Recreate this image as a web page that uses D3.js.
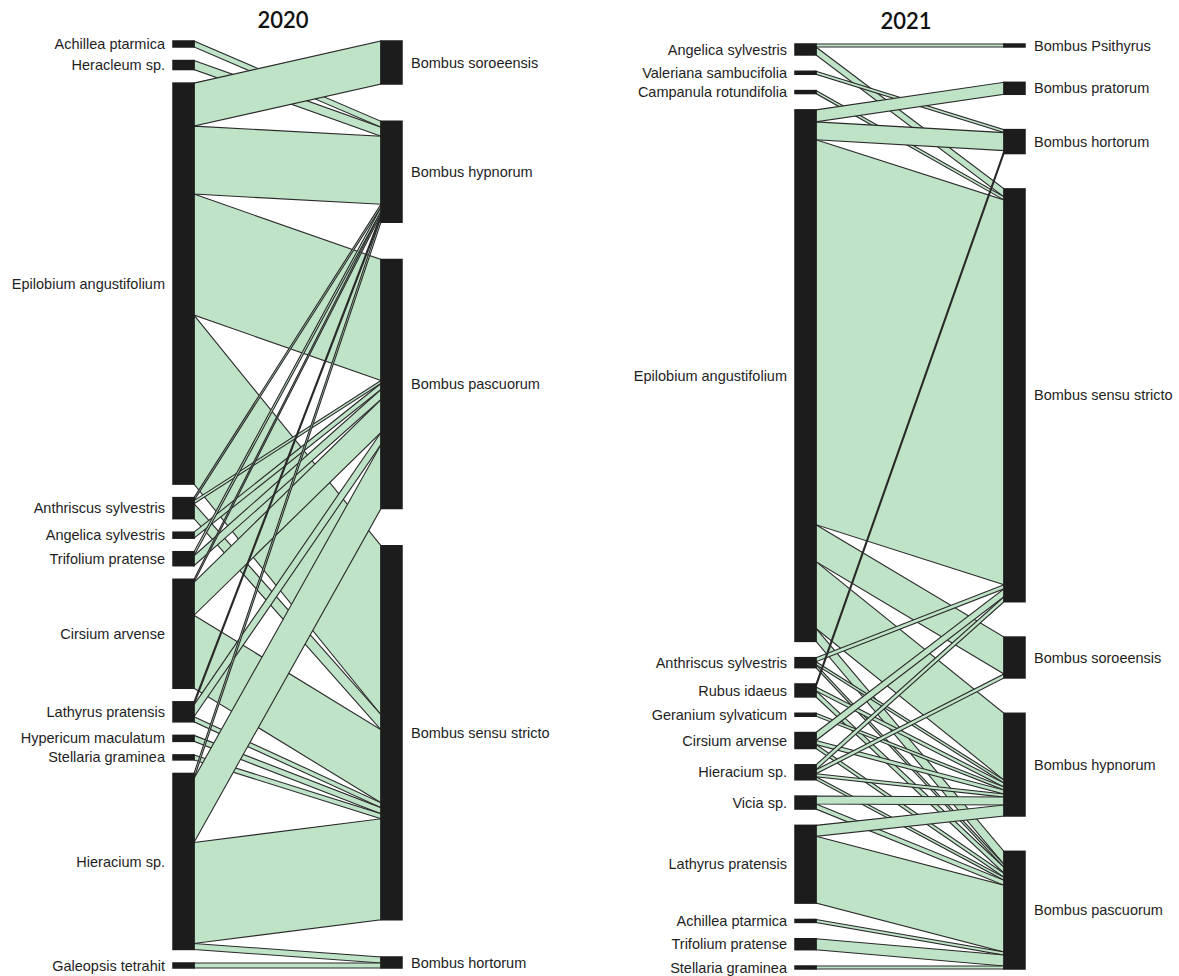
<!DOCTYPE html>
<html>
<head>
<meta charset="utf-8">
<script src="https://cdn.jsdelivr.net/npm/d3@7"></script>
<style>
  html, body { margin: 0; padding: 0; background: #ffffff; }
  svg { display: block; }
</style>
</head>
<body>
<svg id="chart" width="1179" height="976"></svg>
<script>
// ---- 2020: plants (lower level) and bumblebee groups (upper level) ----
const plants2020 = [
  "Achillea ptarmica", "Heracleum sp.", "Epilobium angustifolium",
  "Anthriscus sylvestris", "Angelica sylvestris", "Trifolium pratense",
  "Cirsium arvense", "Lathyrus pratensis", "Hypericum maculatum",
  "Stellaria graminea", "Hieracium sp.", "Galeopsis tetrahit"
];
const bees2020 = [
  "Bombus soroeensis", "Bombus hypnorum", "Bombus pascuorum",
  "Bombus sensu stricto", "Bombus hortorum"
];
// rows = plants2020, columns = bees2020
const visits2020 = [
  [0,   6,   0,   0, 0],
  [0,   9,   0,   0, 0],
  [43, 68, 121, 169, 0],
  [0,   3,   3,  15, 0],
  [0,   0,   6,   0, 0],
  [0,   4,  10,   0, 0],
  [0,   3,  33,  73, 0],
  [0,   3,  12,   5, 0],
  [0,   0,   0,   6, 0],
  [0,   0,   0,   5, 0],
  [0,   5,  64, 101, 6],
  [0,   0,   0,   0, 5]
];

// ---- 2021 ----
const plants2021 = [
  "Angelica sylvestris", "Valeriana sambucifolia", "Campanula rotundifolia",
  "Epilobium angustifolium", "Anthriscus sylvestris", "Rubus idaeus",
  "Geranium sylvaticum", "Cirsium arvense", "Hieracium sp.", "Vicia sp.",
  "Lathyrus pratensis", "Achillea ptarmica", "Trifolium pratense",
  "Stellaria graminea"
];
const bees2021 = [
  "Bombus Psithyrus", "Bombus pratorum", "Bombus hortorum",
  "Bombus sensu stricto", "Bombus soroeensis", "Bombus hypnorum",
  "Bombus pascuorum"
];
// rows = plants2021, columns = bees2021
const visits2021 = [
  [3,  0,  0,   8,  0,  0,  0],
  [0,  0,  3,   0,  0,  0,  0],
  [0,  0,  0,   3,  0,  0,  0],
  [0, 12, 18, 386, 37, 67, 13],
  [0,  0,  0,   4,  0,  3,  3],
  [0,  0,  3,   0,  0,  4,  6],
  [0,  0,  0,   0,  0,  3,  0],
  [0,  0,  0,   8,  0,  4,  4],
  [0,  0,  0,   5,  4,  3,  3],
  [0,  0,  0,   0,  0,  8,  5],
  [0,  0,  0,   0,  0, 11, 67],
  [0,  0,  0,   0,  0,  0,  3],
  [0,  0,  0,   0,  0,  0, 11],
  [0,  0,  0,   0,  0,  0,  3]
];

const years = ["2020", "2021"];

// ---- panel geometry ----
const panels = [
  { title: years[0], plants: plants2020, bees: bees2020, visits: visits2020,
    lowX: 173, highX: 381, barW: 21, top: 41, bottom: 968, gapTotal: 149,
    titleX: 283, titleY: 28 },
  { title: years[1], plants: plants2021, bees: bees2021, visits: visits2021,
    lowX: 795, highX: 1004, barW: 21, top: 44, bottom: 969, gapTotal: 212,
    titleX: 906, titleY: 29 }
];

const LINK_FILL = "#bfe3c6";
const LINK_STROKE = "#2a2a2a";
const BAR_FILL = "#1c1c1c";
const TEXT = "#1e1e1e";

const svg = d3.select("#chart");

function drawWeb(p) {
  const g = svg.append("g");
  const M = p.visits;
  const rowSum = M.map(r => d3.sum(r));
  const colSum = p.bees.map((_, j) => d3.sum(M, r => r[j]));
  const total = d3.sum(rowSum);
  const usable = (p.bottom - p.top) - p.gapTotal;

  // value -> pixel length along the bar axis
  const v = d3.scaleLinear().domain([0, total]).range([0, usable]);
  const gapLow = p.gapTotal / (p.plants.length - 1);
  const gapHigh = p.gapTotal / (p.bees.length - 1);

  function stack(names, sums, gap) {
    let acc = 0;
    return names.map((name, i) => {
      const y0 = p.top + v(acc) + i * gap;
      acc += sums[i];
      const y1 = p.top + v(acc) + i * gap;
      return { name, y0, y1 };
    });
  }
  const low = stack(p.plants, rowSum, gapLow);
  const high = stack(p.bees, colSum, gapHigh);

  // interaction bands: ordered by bee on each plant bar, by plant on each bee bar
  const lowOff = low.map(n => n.y0);
  const highOff = high.map(n => n.y0);
  const links = [];
  M.forEach((row, i) => {
    row.forEach((val, j) => {
      if (val > 0) {
        const w = v(val);
        links.push({ l0: lowOff[i], l1: lowOff[i] + w, h0: highOff[j], h1: highOff[j] + w });
        lowOff[i] += w;
        highOff[j] += w;
      }
    });
  });

  const xL = p.lowX + p.barW;
  const xH = p.highX;
  const line = d3.line();

  g.append("g").selectAll("path")
    .data(links)
    .join("path")
    .attr("d", d => line([[xL, d.l0], [xH, d.h0], [xH, d.h1], [xL, d.l1]]) + "Z")
    .attr("fill", LINK_FILL)
    .attr("stroke", LINK_STROKE)
    .attr("stroke-width", 1.1)
    .attr("stroke-linejoin", "miter");

  const bars = g.append("g");
  bars.selectAll("rect.low")
    .data(low)
    .join("rect")
    .attr("class", "low")
    .attr("x", p.lowX)
    .attr("y", d => d.y0)
    .attr("width", p.barW)
    .attr("height", d => d.y1 - d.y0)
    .attr("fill", BAR_FILL)
    .attr("stroke", BAR_FILL)
    .attr("stroke-width", 1.5);

  bars.selectAll("rect.high")
    .data(high)
    .join("rect")
    .attr("class", "high")
    .attr("x", p.highX)
    .attr("y", d => d.y0)
    .attr("width", p.barW)
    .attr("height", d => d.y1 - d.y0)
    .attr("fill", BAR_FILL)
    .attr("stroke", BAR_FILL)
    .attr("stroke-width", 1.5);

  const labels = g.append("g")
    .attr("font-family", "'Liberation Sans', Arial, sans-serif")
    .attr("font-size", 14.5)
    .attr("fill", TEXT);

  labels.selectAll("text.low")
    .data(low)
    .join("text")
    .attr("class", "low")
    .attr("x", p.lowX - 8)
    .attr("y", d => (d.y0 + d.y1) / 2)
    .attr("dy", "0.35em")
    .attr("text-anchor", "end")
    .text(d => d.name);

  labels.selectAll("text.high")
    .data(high)
    .join("text")
    .attr("class", "high")
    .attr("x", p.highX + p.barW + 9)
    .attr("y", d => (d.y0 + d.y1) / 2)
    .attr("dy", "0.35em")
    .attr("text-anchor", "start")
    .text(d => d.name);

  g.append("text")
    .attr("x", p.titleX)
    .attr("y", p.titleY)
    .attr("text-anchor", "middle")
    .attr("font-family", "Lato, 'Open Sans', sans-serif")
    .attr("font-size", 22)
    .attr("font-weight", 600)
    .attr("fill", "#111")
    .text(p.title);
}

panels.forEach(drawWeb);
</script>
</body>
</html>
